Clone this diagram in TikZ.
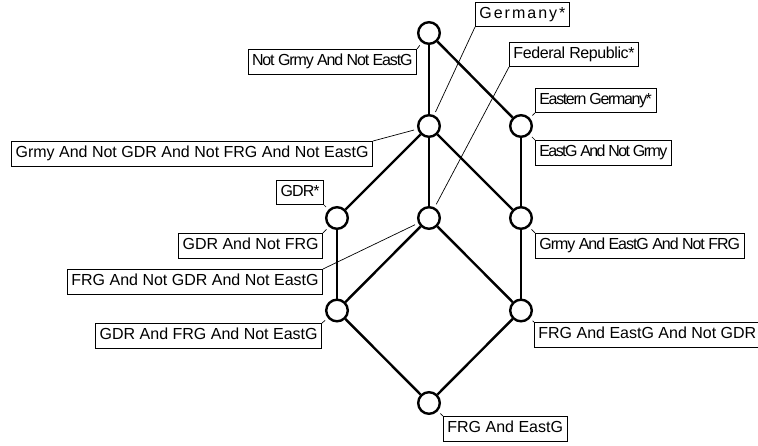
\documentclass[tikz,border=0pt]{standalone}
\usepackage{fontspec}
\usetikzlibrary{calc}
\newfontfamily\lbfont{Liberation Sans}
\newcommand{\tight}[2]{{\addfontfeatures{LetterSpace=#1}#2}}

\begin{document}
\begin{tikzpicture}[x=1pt,y=-1pt,
  vtx/.style={circle,draw,line width=2.4pt,minimum size=21.6pt,inner sep=0pt,fill=white},
  edge/.style={line width=2.4pt},
  lbl/.style={draw,line width=0.8pt,font=\lbfont\fontsize{16}{19}\selectfont,
    inner xsep=4pt,inner ysep=4.5pt,text height=12pt,text depth=3.5pt},
  leader/.style={line width=0.7pt}]
\useasboundingbox (0,0) rectangle (758,445);

% lattice vertices
\node[vtx] (top) at (429,33) {};
\node[vtx] (g)   at (429,126) {};
\node[vtx] (e)   at (521,126) {};
\node[vtx] (gdr) at (337,218) {};
\node[vtx] (frg) at (429,218) {};
\node[vtx] (ge)  at (521,218) {};
\node[vtx] (gf)  at (337,310.5) {};
\node[vtx] (fe)  at (521,310.5) {};
\node[vtx] (bot) at (429,403) {};

% lattice edges
\draw[edge] (top) -- (g);
\draw[edge] (top) -- (e);
\draw[edge] (g) -- (gdr);
\draw[edge] (g) -- (frg);
\draw[edge] (g) -- (ge);
\draw[edge] (e) -- (ge);
\draw[edge] (gdr) -- (gf);
\draw[edge] (frg) -- (gf);
\draw[edge] (frg) -- (fe);
\draw[edge] (ge) -- (fe);
\draw[edge] (gf) -- (bot);
\draw[edge] (fe) -- (bot);

% upper labels (attribute names)
\node[lbl,anchor=south west] (lGermany) at (475,27) {\tight{12.5}{Germany*}};
\node[lbl,anchor=south west] (lFed) at (509,67) {\tight{-2.5}{Federal Republic*}};
\node[lbl,anchor=south west] (lEast) at (535,113) {\tight{-8.5}{Eastern Germany*}};
\node[lbl,anchor=south east] (lGDR) at (324,205) {\tight{-6}{GDR*}};

% lower labels (object classes)
\node[lbl,anchor=north east] (lNotG) at (417,49) {\tight{-7}{Not Grmy And Not EastG}};
\node[lbl,anchor=north east] (lGrmy) at (373,141) {Grmy And Not GDR And Not FRG And Not EastG};
\node[lbl,anchor=north west] (lEastNot) at (535,140) {\tight{-10}{EastG And Not Grmy}};
\node[lbl,anchor=north east] (lGDRnF) at (323,233) {GDR And Not FRG};
\node[lbl,anchor=north east] (lFRGn) at (323,269) {FRG And Not GDR And Not EastG};
\node[lbl,anchor=north west] (lGE) at (535,233) {\tight{-6.5}{Grmy And EastG And Not FRG}};
\node[lbl,anchor=north east] (lGF) at (322,323) {GDR And FRG And Not EastG};
\node[lbl,anchor=north west] (lFE) at (534,322) {FRG And EastG And Not GDR};
\node[lbl,anchor=north west] (lBot) at (443,416) {FRG And EastG};

% leader lines from labels to vertices
\draw[leader] (lGermany.south west) -- ($(g)!15.5pt!(lGermany.south west)$);
\draw[leader] (lFed.south west) -- ($(frg)!15.5pt!(lFed.south west)$);
\draw[leader] (lEast.south west) -- ($(e)!15.5pt!(lEast.south west)$);
\draw[leader] (lGDR.south east) -- ($(gdr)!15.5pt!(lGDR.south east)$);
\draw[leader] (lNotG.north east) -- ($(top)!15.5pt!(lNotG.north east)$);
\draw[leader] (lGrmy.north east) -- ($(g)!15.5pt!(lGrmy.north east)$);
\draw[leader] (lEastNot.north west) -- ($(e)!15.5pt!(lEastNot.north west)$);
\draw[leader] (lGDRnF.north east) -- ($(gdr)!15.5pt!(lGDRnF.north east)$);
\draw[leader] (lFRGn.north east) -- ($(frg)!15.5pt!(lFRGn.north east)$);
\draw[leader] (lGE.north west) -- ($(ge)!15.5pt!(lGE.north west)$);
\draw[leader] (lGF.north east) -- ($(gf)!15.5pt!(lGF.north east)$);
\draw[leader] (lFE.north west) -- ($(fe)!15.5pt!(lFE.north west)$);
\draw[leader] (lBot.north west) -- ($(bot)!15.5pt!(lBot.north west)$);
\end{tikzpicture}
\end{document}
